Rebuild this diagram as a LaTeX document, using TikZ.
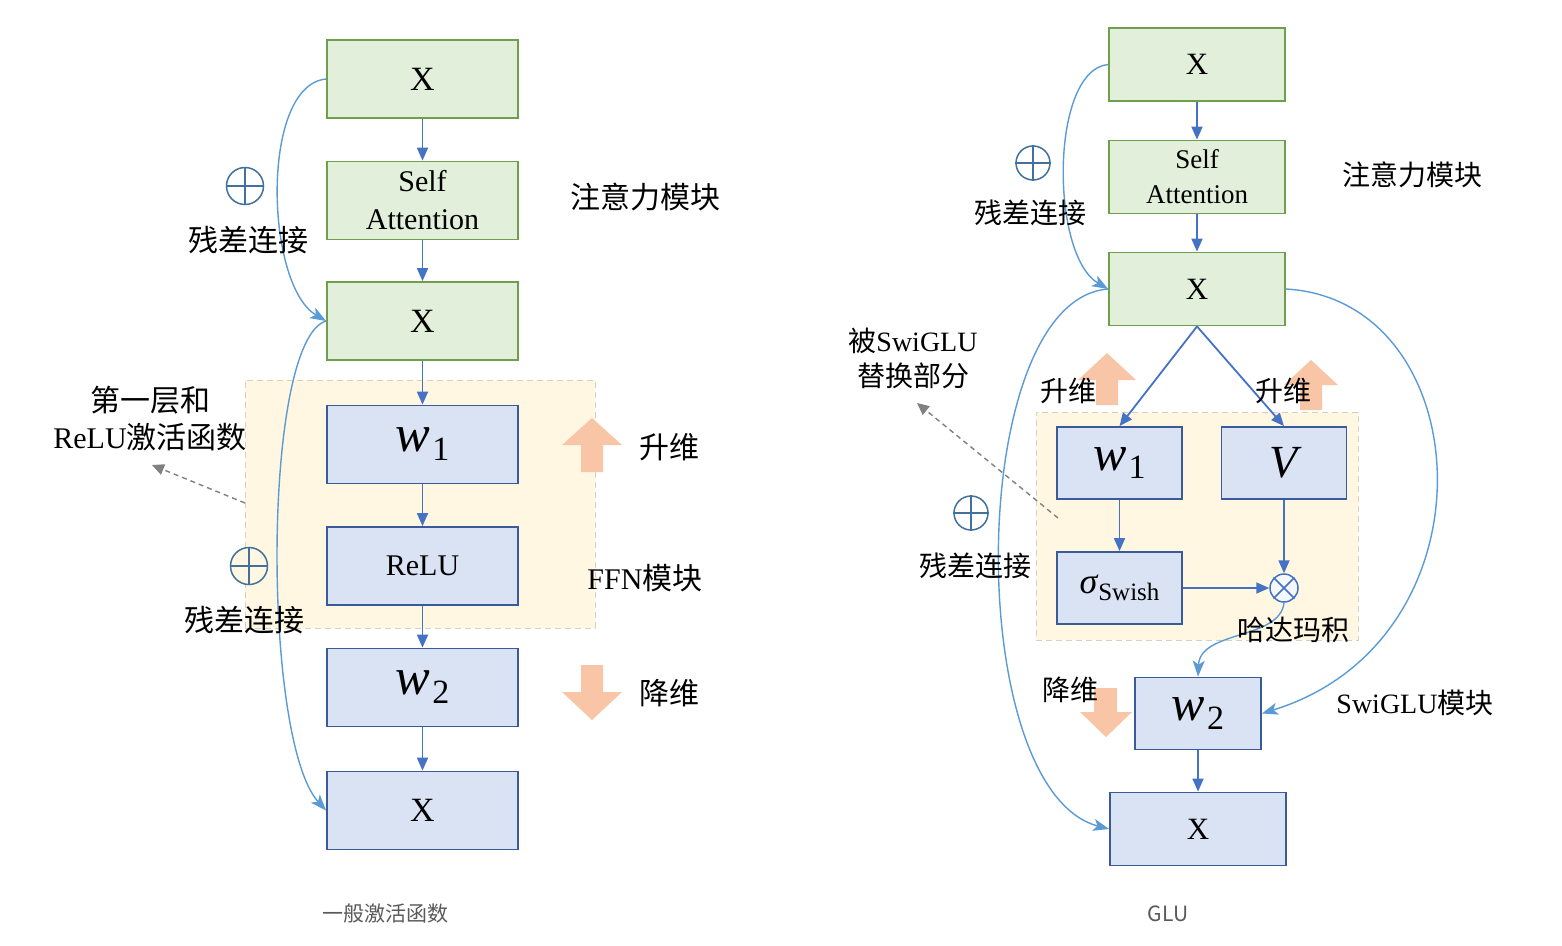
\documentclass[tikz,border=0pt]{standalone}
\usepackage{fontspec}
\setmainfont{Liberation Serif}
\newfontfamily\cjk{Noto Sans CJK SC}
\usetikzlibrary{arrows.meta}
\definecolor{gfill}{HTML}{E2EFDA}
\definecolor{gline}{HTML}{6F9F4C}
\definecolor{bfill}{HTML}{DAE3F3}
\definecolor{bline}{HTML}{3A5A9A}
\definecolor{arrc}{HTML}{4472C4}
\definecolor{resc}{HTML}{5B9BD5}
\definecolor{orng}{HTML}{F8C6A6}
\definecolor{yfill}{HTML}{FFF7E2}
\definecolor{ydash}{HTML}{D6D0BE}
\definecolor{opc}{HTML}{41719C}
\definecolor{capc}{HTML}{5A5A5A}
\definecolor{dgray}{HTML}{808080}
\newcommand\wsub[3]{{\fontsize{#1}{#1}\selectfont\itshape #2}\kern2pt\raisebox{-0.3em}{\fontsize{34}{36}\selectfont #3}}
\tikzset{
  boxbase/.style={line width=1.8pt, inner sep=0pt, align=center},
  gbox/.style={boxbase, draw=gline, fill=gfill},
  bbox/.style={boxbase, draw=bline, fill=bfill},
  lsize/.style={minimum width=191pt, minimum height=78pt, font=\fontsize{30}{38}\selectfont},
  rsize/.style={minimum width=176pt, minimum height=73pt, font=\fontsize{27}{35}\selectfont},
  rsmall/.style={minimum width=125pt, minimum height=72pt, font=\fontsize{27}{35}\selectfont},
  bigx/.style={font=\fontsize{34}{38}\selectfont},
  bigxr/.style={font=\fontsize{31}{35}\selectfont},
  flow/.style={draw=arrc, line width=1.8pt, -{Triangle[length=13pt,width=11pt]}},
  resid/.style={draw=resc, line width=1.4pt, -{Stealth[length=16pt,width=12pt,inset=4pt]}},
  hint/.style={draw=dgray, line width=1.4pt, dash pattern=on 5pt off 4pt, -{Triangle[length=12pt,width=11pt]}},
  ffnarea/.style={draw=ydash, fill=yfill, line width=1pt, dash pattern=on 6pt off 4pt},
  opl/.style={circle, draw=opc, line width=1.5pt, inner sep=0pt},
  otm/.style={circle, draw=arrc, line width=1.5pt, inner sep=0pt, fill=bfill!30},
  labL/.style={font=\cjk\fontsize{30}{36}\selectfont, inner sep=0pt},
  labR/.style={font=\cjk\fontsize{28}{34}\selectfont, inner sep=0pt},
  caption/.style={font=\cjk\fontsize{21}{24}\selectfont, text=capc, inner sep=0pt}
}
\begin{document}
\begin{tikzpicture}[x=1pt,y=-1pt]
\useasboundingbox (0,0) rectangle (1562,945);
\fill[white] (0,0) rectangle (1562,945);

% ================= LEFT =================
\node[ffnarea, minimum width=350pt, minimum height=248pt] (ffn) at (420,504) {};

\node[gbox, lsize, bigx] (lx1) at (422.5,79) {X};
\node[gbox, lsize] (lsa) at (422.5,200.5) {Self\\Attention};
\node[gbox, lsize, bigx] (lx2) at (422.5,321) {X};
\node[bbox, lsize] (lw1) at (422.5,444.5) {\wsub{52}{w}{1}};
\node[bbox, lsize] (lrelu) at (422.5,566) {ReLU};
\node[bbox, lsize] (lw2) at (422.5,687.5) {\wsub{52}{w}{2}};
\node[bbox, lsize, bigx] (lx3) at (422.5,810.5) {X};

\draw[flow] (lx1) -- (lsa);
\draw[flow] (lsa) -- (lx2);
\draw[flow] (lx2) -- (lw1);
\draw[flow] (lw1) -- (lrelu);
\draw[flow] (lrelu) -- (lw2);
\draw[flow] (lw2) -- (lx3);

\draw[resid] (lx1.west) .. controls (260,85) and (265,285) .. (lx2.west);
\draw[resid] (lx2.west) .. controls (262,340) and (262,740) .. (lx3.west);

\node[opl, minimum size=37pt] (lop1) at (245,186) {};
\draw[opc, line width=1.5pt] (lop1.north) -- (lop1.south) (lop1.west) -- (lop1.east);
\node[opl, minimum size=37pt, fill=yfill] (lop2) at (249,566) {};
\draw[opc, line width=1.5pt] (lop2.north) -- (lop2.south) (lop2.west) -- (lop2.east);

\node[labL] (lres1) at (248,240) {残差连接};
\node[labL] (lres2) at (244,620) {残差连接};
\node[labL] (latt) at (645,197) {注意力模块};
\node[labL] (lfirst1) at (150,400) {第一层和};
\node[font=\fontsize{30}{36}\selectfont, inner sep=0pt] (lfirst2) at (150,437) {ReLU{\cjk 激活函数}};
\node[font=\fontsize{30}{36}\selectfont, inner sep=0pt] (lffn) at (645,578) {FFN{\cjk 模块}};

\coordinate (lh1) at (245,503);
\coordinate (lh2) at (152,465);
\draw[hint] (lh1) -- (lh2);

% orange arrows left
\fill[orng] (592,418) -- (622,445) -- (603,445) -- (603,472) -- (581,472) -- (581,445) -- (562,445) -- cycle;
\fill[orng] (581,665) -- (603,665) -- (603,692) -- (622,692) -- (592,720) -- (562,692) -- (581,692) -- cycle;
\node[labL] (lup) at (669,447) {升维};
\node[labL] (ldown) at (669,693) {降维};

\node[caption] (cap1) at (385,914) {一般激活函数};

% ================= RIGHT =================
\node[ffnarea, minimum width=322pt, minimum height=228pt] (glu) at (1197,526) {};

% orange arrows right
\fill[orng] (1107,353) -- (1136,380) -- (1118,380) -- (1118,405) -- (1096,405) -- (1096,380) -- (1078,380) -- cycle;
\fill[orng] (1311,360) -- (1338,385) -- (1322,385) -- (1322,410) -- (1300,410) -- (1300,385) -- (1284,385) -- cycle;
\fill[orng] (1094,688) -- (1117,688) -- (1117,712) -- (1132,712) -- (1106,737) -- (1080,712) -- (1094,712) -- cycle;

\node[gbox, rsize, bigxr] (rx1) at (1197,64.5) {X};
\node[gbox, rsize] (rsa) at (1197,177) {Self\\Attention};
\node[gbox, rsize, bigxr] (rx2) at (1197,289) {X};
\node[bbox, rsmall] (rw1) at (1119.5,463) {\wsub{50}{w}{1}};
\node[bbox, rsmall] (rv) at (1284,463) {{\fontsize{46}{48}\selectfont\itshape V}};
\node[bbox, rsmall] (rsig) at (1119.5,588) {{\fontsize{36}{38}\selectfont\itshape σ}\kern1pt\raisebox{-7pt}{\fontsize{25}{30}\selectfont Swish}};
\node[otm, minimum size=28pt] (rot) at (1284,588) {};
\draw[arrc, line width=1.5pt] (rot.north west) -- (rot.south east) (rot.north east) -- (rot.south west);
\node[bbox, rsmall, minimum width=126pt] (rw2) at (1198,713.5) {\wsub{50}{w}{2}};
\node[bbox, rsize, bigxr] (rx3) at (1198,829) {X};

\draw[flow] (rx1) -- (rsa);
\draw[flow] (rsa) -- (rx2);
\draw[flow] (rx2.south) -- (rw1.north);
\draw[flow] (rx2.south) -- (rv.north);
\draw[flow] (rw1) -- (rsig);
\draw[flow] (rv.south) -- (rot.north);
\draw[flow] (rsig.east) -- (rot.west);
\draw[flow] (rw2) -- (rx3);

\draw[resid] (rx1.west) .. controls (1050,70) and (1050,255) .. (rx2.west);
\draw[resid] (rx2.west) .. controls (965,300) and (962,790) .. (rx3.west);
\draw[resid] (rx2.east) .. controls (1480,300) and (1500,640) .. (rw2.east);
\draw[resid] (rot.south) .. controls (1280,640) and (1200,630) .. (rw2.north);

\node[opl, minimum size=34pt] (rop1) at (1033,163) {};
\draw[opc, line width=1.5pt] (rop1.north) -- (rop1.south) (rop1.west) -- (rop1.east);
\node[opl, minimum size=34pt] (rop2) at (971,513) {};
\draw[opc, line width=1.5pt] (rop2.north) -- (rop2.south) (rop2.west) -- (rop2.east);

\node[labR] (rres1) at (1030,213) {残差连接};
\node[labR] (rres2) at (975,566) {残差连接};
\node[labR] (ratt) at (1412,175) {注意力模块};
\node[font=\fontsize{28}{34}\selectfont, inner sep=0pt] (rrep1) at (913,341) {{\cjk 被}SwiGLU};
\node[labR] (rrep2) at (913,376) {替换部分};
\node[labR] (rup1) at (1068,391) {升维};
\node[labR] (rup2) at (1283,391) {升维};
\node[labR] (rdown) at (1070,690) {降维};
\node[labR] (rhad) at (1293,630) {哈达玛积};
\node[font=\fontsize{28}{34}\selectfont, inner sep=0pt] (rswi) at (1415,703) {SwiGLU{\cjk 模块}};

\coordinate (rh1) at (1058,518);
\coordinate (rh2) at (917,403);
\draw[hint] (rh1) -- (rh2);

\node[caption] (cap2) at (1168,914) {GLU};
\end{tikzpicture}
\end{document}
